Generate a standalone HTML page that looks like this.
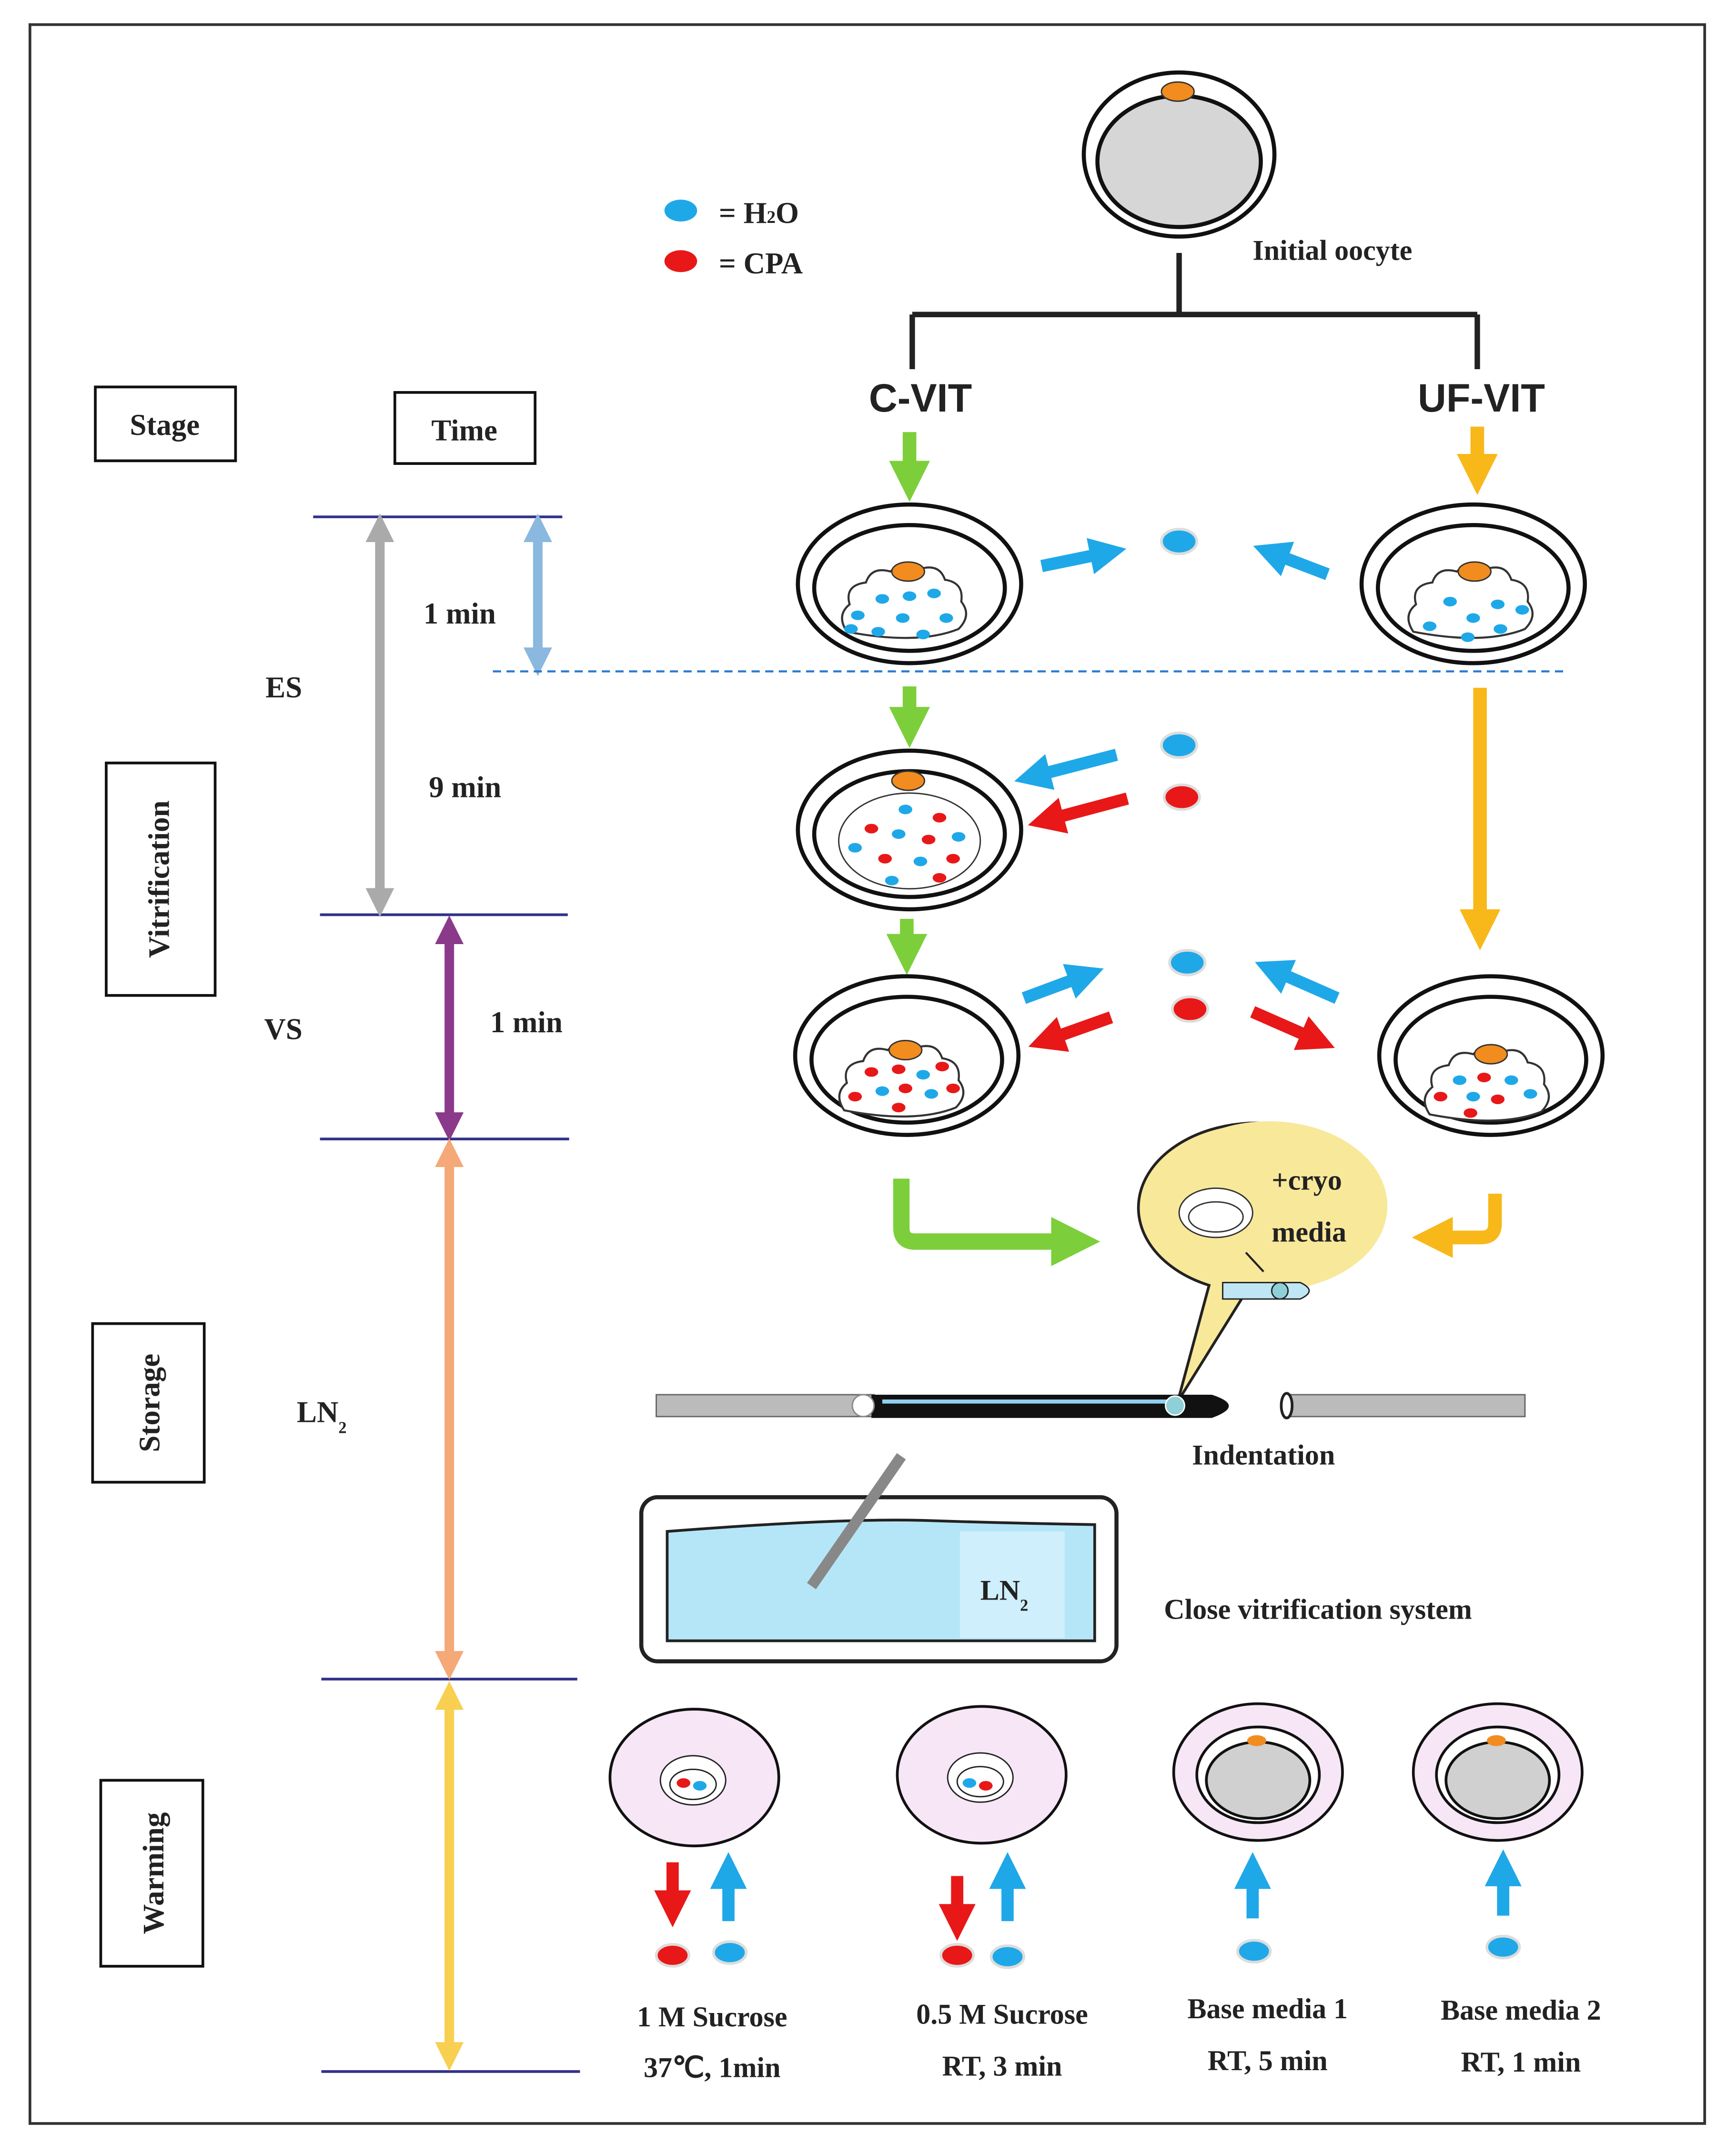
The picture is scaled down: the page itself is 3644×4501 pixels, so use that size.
<!DOCTYPE html>
<html><head><meta charset="utf-8"><style>
html,body{margin:0;padding:0;background:#fff}
svg{display:block}
text{font-family:"Liberation Serif",serif;font-weight:bold;fill:#222}
</style></head><body>
<svg width="3644" height="4501" viewBox="0 0 1275 1568" preserveAspectRatio="none" xmlns="http://www.w3.org/2000/svg">
<defs>
<marker id="ah" viewBox="0 0 10 10" refX="5" refY="5" markerWidth="3" markerHeight="3" orient="auto-start-reverse"><path d="M0,0L10,5L0,10z" fill="context-stroke"/></marker>
<g id="dish"><ellipse rx="82" ry="58" fill="#fff" stroke="#111" stroke-width="3"/><ellipse cy="3" rx="70" ry="46" fill="#fff" stroke="#111" stroke-width="3"/></g>
<g id="cell"><path d="M-45,30 q-8,-12 2,-20 q-4,-14 12,-16 q4,-12 18,-8 q10,-10 22,-2 q14,-4 18,8 q14,2 12,16 q8,10 -2,20 q-30,12 -82,2z" fill="#fff" stroke="#333" stroke-width="1.5"/><ellipse cx="0" cy="-14" rx="12" ry="7" fill="#f28c1e" stroke="#333"/></g>
<g id="bd"><ellipse rx="5" ry="3.5" fill="#1fa8e8"/></g>
<g id="rd"><ellipse rx="5" ry="3.5" fill="#e81818"/></g>
</defs>
<rect x="22" y="18" width="1230" height="1535" fill="none" stroke="#333" stroke-width="2"/>
<g fill="#fff" stroke="#111" stroke-width="2">
<rect x="70" y="283" width="103" height="54"/><rect x="290" y="287" width="103" height="52"/>
<rect x="78" y="558" width="80" height="170"/><rect x="68" y="968" width="82" height="116"/><rect x="74" y="1302" width="75" height="136"/></g>
<text x="121" y="318" font-size="22" text-anchor="middle">Stage</text>
<text x="341" y="322" font-size="22" text-anchor="middle">Time</text>
<text transform="translate(124,643) rotate(-90)" font-size="22" text-anchor="middle">Vitrification</text>
<text transform="translate(117,1026) rotate(-90)" font-size="22" text-anchor="middle">Storage</text>
<text transform="translate(120,1370) rotate(-90)" font-size="22" text-anchor="middle">Warming</text>
<g stroke="#33338a" stroke-width="2"><line x1="230" y1="378" x2="413" y2="378"/><line x1="235" y1="669" x2="417" y2="669"/><line x1="235" y1="833" x2="418" y2="833"/><line x1="236" y1="1228" x2="424" y2="1228"/><line x1="236" y1="1515" x2="426" y2="1515"/></g>
<g stroke-width="7" marker-start="url(#ah)" marker-end="url(#ah)">
<line x1="279" y1="386" x2="279" y2="660" stroke="#aaa"/>
<line x1="395" y1="386" x2="395" y2="484" stroke="#8ab8de"/>
<line x1="330" y1="680" x2="330" y2="824" stroke="#8b3a8b"/>
<line x1="330" y1="843" x2="330" y2="1218" stroke="#f5a878"/>
<line x1="330" y1="1240" x2="330" y2="1504" stroke="#f8cf50"/></g>
<g font-size="22"><text x="311" y="456">1 min</text><text x="195" y="510">ES</text><text x="315" y="583">9 min</text><text x="194" y="760">VS</text><text x="360" y="755">1 min</text><text x="218" y="1040">LN<tspan font-size="12" dy="8">2</tspan></text></g>
<line x1="362" y1="491" x2="1148" y2="491" stroke="#2a7ad0" stroke-width="1.5" stroke-dasharray="6,4"/>
<ellipse cx="500" cy="154" rx="12" ry="8" fill="#1fa8e8"/><ellipse cx="500" cy="191" rx="12" ry="8" fill="#e81818"/>
<text x="528" y="163" font-size="22">= H<tspan font-size="13">2</tspan>O</text><text x="528" y="200" font-size="22">= CPA</text>
<ellipse cx="866" cy="113" rx="70" ry="60" fill="#fff" stroke="#111" stroke-width="3"/>
<ellipse cx="866" cy="118" rx="60" ry="48" fill="#d6d6d6" stroke="#111" stroke-width="3"/>
<ellipse cx="865" cy="67" rx="12" ry="7" fill="#f28c1e" stroke="#333"/>
<text x="920" y="190" font-size="21">Initial oocyte</text>
<path d="M866,185V230M670,230H1085M670,230V270M1085,230V270" stroke="#222" stroke-width="4" fill="none"/>
<text x="676" y="301" font-size="29" text-anchor="middle" style="font-family:'Liberation Sans',sans-serif">C-VIT</text>
<text x="1088" y="301" font-size="29" text-anchor="middle" style="font-family:'Liberation Sans',sans-serif">UF-VIT</text>
<g stroke-width="10" marker-end="url(#ah)">
<line x1="668" y1="316" x2="668" y2="352" stroke="#7ccf3a"/><line x1="1085" y1="312" x2="1085" y2="347" stroke="#f8b81a"/>
<line x1="668" y1="502" x2="668" y2="532" stroke="#7ccf3a"/><line x1="666" y1="672" x2="666" y2="698" stroke="#7ccf3a"/>
<line x1="1087" y1="503" x2="1087" y2="680" stroke="#f8b81a"/></g>
<use href="#dish" x="668" y="427"/><use href="#cell" x="667" y="432"/>
<use href="#dish" x="1082" y="427"/><use href="#cell" x="1083" y="432"/>
<use href="#dish" x="668" y="607"/><ellipse cx="668" cy="615" rx="52" ry="35" fill="#fff" stroke="#333"/><ellipse cx="667" cy="571" rx="12" ry="7" fill="#f28c1e" stroke="#333"/>
<use href="#dish" x="666" y="772"/><use href="#cell" x="665" y="782"/>
<use href="#dish" x="1095" y="772"/><use href="#cell" x="1095" y="785"/>
<g><use href="#bd" x="648" y="438"/><use href="#bd" x="668" y="436"/><use href="#bd" x="686" y="434"/><use href="#bd" x="630" y="450"/><use href="#bd" x="663" y="452"/><use href="#bd" x="695" y="452"/><use href="#bd" x="645" y="462"/><use href="#bd" x="678" y="464"/><use href="#bd" x="625" y="460"/>
<use href="#bd" x="1065" y="440"/><use href="#bd" x="1100" y="442"/><use href="#bd" x="1118" y="446"/><use href="#bd" x="1082" y="452"/><use href="#bd" x="1050" y="458"/><use href="#bd" x="1102" y="460"/><use href="#bd" x="1078" y="466"/>
<use href="#bd" x="665" y="592"/><use href="#rd" x="690" y="598"/><use href="#rd" x="640" y="606"/><use href="#bd" x="660" y="610"/><use href="#rd" x="682" y="614"/><use href="#bd" x="704" y="612"/><use href="#bd" x="628" y="620"/><use href="#rd" x="650" y="628"/><use href="#bd" x="676" y="630"/><use href="#rd" x="700" y="628"/><use href="#bd" x="655" y="644"/><use href="#rd" x="690" y="642"/>
<use href="#rd" x="640" y="784"/><use href="#rd" x="660" y="782"/><use href="#bd" x="678" y="786"/><use href="#rd" x="692" y="780"/><use href="#bd" x="648" y="798"/><use href="#rd" x="665" y="796"/><use href="#bd" x="684" y="800"/><use href="#rd" x="628" y="802"/><use href="#rd" x="700" y="796"/><use href="#rd" x="660" y="810"/>
<use href="#bd" x="1072" y="790"/><use href="#rd" x="1090" y="788"/><use href="#bd" x="1110" y="790"/><use href="#rd" x="1058" y="802"/><use href="#bd" x="1082" y="802"/><use href="#rd" x="1100" y="804"/><use href="#bd" x="1124" y="800"/><use href="#rd" x="1080" y="814"/></g>
<g stroke-width="9" marker-end="url(#ah)">
<line x1="765" y1="414" x2="814" y2="404" stroke="#1fa8e8"/><line x1="975" y1="420" x2="933" y2="404" stroke="#1fa8e8"/>
<line x1="820" y1="552" x2="758" y2="568" stroke="#1fa8e8"/><line x1="828" y1="584" x2="768" y2="600" stroke="#e81818"/>
<line x1="752" y1="730" x2="798" y2="713" stroke="#1fa8e8"/><line x1="816" y1="744" x2="768" y2="761" stroke="#e81818"/>
<line x1="982" y1="730" x2="934" y2="709" stroke="#1fa8e8"/><line x1="920" y1="740" x2="968" y2="761" stroke="#e81818"/></g>
<g stroke="#ddd" stroke-width="2"><ellipse cx="866" cy="396" rx="13" ry="9" fill="#1fa8e8"/><ellipse cx="866" cy="545" rx="13" ry="9" fill="#1fa8e8"/><ellipse cx="868" cy="583" rx="13" ry="9" fill="#e81818"/><ellipse cx="872" cy="704" rx="13" ry="9" fill="#1fa8e8"/><ellipse cx="874" cy="738" rx="13" ry="9" fill="#e81818"/></g>
<path d="M662,862V898Q662,908 672,908H790" stroke="#7ccf3a" stroke-width="12" fill="none" marker-end="url(#ah)"/>
<path d="M1098,873V895Q1098,905 1088,905H1052" stroke="#f8b81a" stroke-width="10" fill="none" marker-end="url(#ah)"/>
<path d="M865,1025L888,940A87,62 0 1 1 915,945Z" fill="#f8e89a" stroke="#222" stroke-width="2"/>
<ellipse cx="932" cy="882" rx="87" ry="62" fill="#f8e89a"/>
<ellipse cx="893" cy="887" rx="27" ry="18" fill="#fff" stroke="#333"/><ellipse cx="893" cy="890" rx="20" ry="11" fill="#fff" stroke="#333"/>
<text x="934" y="870" font-size="21">+cryo</text><text x="934" y="908" font-size="21">media</text>
<path d="M898,938H955Q968,944 955,950H898z" fill="#bfe6f5" stroke="#222"/><circle cx="940" cy="944" r="6" fill="#8fd0d8" stroke="#222"/>
<path d="M915,916L928,930" stroke="#222" stroke-width="1.5"/>
<rect x="482" y="1020" width="160" height="16" fill="#bbb" stroke="#666"/>
<path d="M640,1020H890Q915,1028 890,1037H640z" fill="#111"/>
<path d="M648,1025H860" stroke="#8fd0f0" stroke-width="3"/>
<circle cx="634" cy="1028" r="8" fill="#fff" stroke="#888"/><circle cx="863" cy="1028" r="7" fill="#8fd0d8" stroke="#fff"/>
<rect x="948" y="1020" width="172" height="16" fill="#bbb" stroke="#666"/><ellipse cx="945" cy="1028" rx="4" ry="9" fill="#fff" stroke="#222" stroke-width="2"/>
<text x="928" y="1071" font-size="21" text-anchor="middle">Indentation</text>
<rect x="471" y="1095" width="349" height="120" rx="12" fill="#fff" stroke="#222" stroke-width="3"/>
<path d="M490,1120Q620,1110 680,1112T804,1115V1200H490z" fill="#b5e6f8" stroke="#222" stroke-width="2"/>
<rect x="705" y="1120" width="77" height="78" fill="#d5f1fb" opacity="0.8"/>
<line x1="596" y1="1160" x2="662" y2="1065" stroke="#888" stroke-width="8"/>
<text x="720" y="1170" font-size="21">LN<tspan font-size="12" dy="8">2</tspan></text>
<text x="968" y="1184" font-size="21" text-anchor="middle">Close vitrification system</text>
<g fill="#f6e6f6" stroke="#111" stroke-width="2">
<ellipse cx="510" cy="1300" rx="62" ry="50"/><ellipse cx="721" cy="1298" rx="62" ry="50"/><ellipse cx="924" cy="1296" rx="62" ry="50"/><ellipse cx="1100" cy="1296" rx="62" ry="50"/></g>
<g fill="#fff" stroke="#222"><ellipse cx="509" cy="1302" rx="24" ry="18"/><ellipse cx="509" cy="1305" rx="17" ry="11"/><ellipse cx="720" cy="1300" rx="24" ry="18"/><ellipse cx="720" cy="1303" rx="17" ry="11"/></g>
<use href="#rd" x="502" y="1304"/><use href="#bd" x="514" y="1306"/><use href="#bd" x="712" y="1304"/><use href="#rd" x="724" y="1306"/>
<g stroke="#111" stroke-width="2"><ellipse cx="924" cy="1298" rx="45" ry="35" fill="#fff"/><ellipse cx="924" cy="1302" rx="38" ry="28" fill="#d0d0d0"/><ellipse cx="1100" cy="1298" rx="45" ry="35" fill="#fff"/><ellipse cx="1100" cy="1302" rx="38" ry="28" fill="#d0d0d0"/></g>
<ellipse cx="923" cy="1273" rx="7" ry="4" fill="#f28c1e"/><ellipse cx="1099" cy="1273" rx="7" ry="4" fill="#f28c1e"/>
<g stroke-width="9" marker-end="url(#ah)">
<line x1="494" y1="1362" x2="494" y2="1396" stroke="#e81818"/><line x1="535" y1="1405" x2="535" y2="1368" stroke="#1fa8e8"/>
<line x1="703" y1="1372" x2="703" y2="1406" stroke="#e81818"/><line x1="740" y1="1405" x2="740" y2="1368" stroke="#1fa8e8"/>
<line x1="920" y1="1403" x2="920" y2="1368" stroke="#1fa8e8"/><line x1="1104" y1="1401" x2="1104" y2="1366" stroke="#1fa8e8"/></g>
<g stroke="#ddd" stroke-width="2"><ellipse cx="494" cy="1430" rx="12" ry="8" fill="#e81818"/><ellipse cx="536" cy="1428" rx="12" ry="8" fill="#1fa8e8"/><ellipse cx="703" cy="1430" rx="12" ry="8" fill="#e81818"/><ellipse cx="740" cy="1431" rx="12" ry="8" fill="#1fa8e8"/><ellipse cx="921" cy="1427" rx="12" ry="8" fill="#1fa8e8"/><ellipse cx="1104" cy="1424" rx="12" ry="8" fill="#1fa8e8"/></g>
<g font-size="21" text-anchor="middle">
<text x="523" y="1482">1 M Sucrose</text><text x="523" y="1519">37℃, 1min</text>
<text x="736" y="1480">0.5 M Sucrose</text><text x="736" y="1518">RT, 3 min</text>
<text x="931" y="1476">Base media 1</text><text x="931" y="1514">RT, 5 min</text>
<text x="1117" y="1477">Base media 2</text><text x="1117" y="1515">RT, 1 min</text></g>
</svg>
</body></html>
